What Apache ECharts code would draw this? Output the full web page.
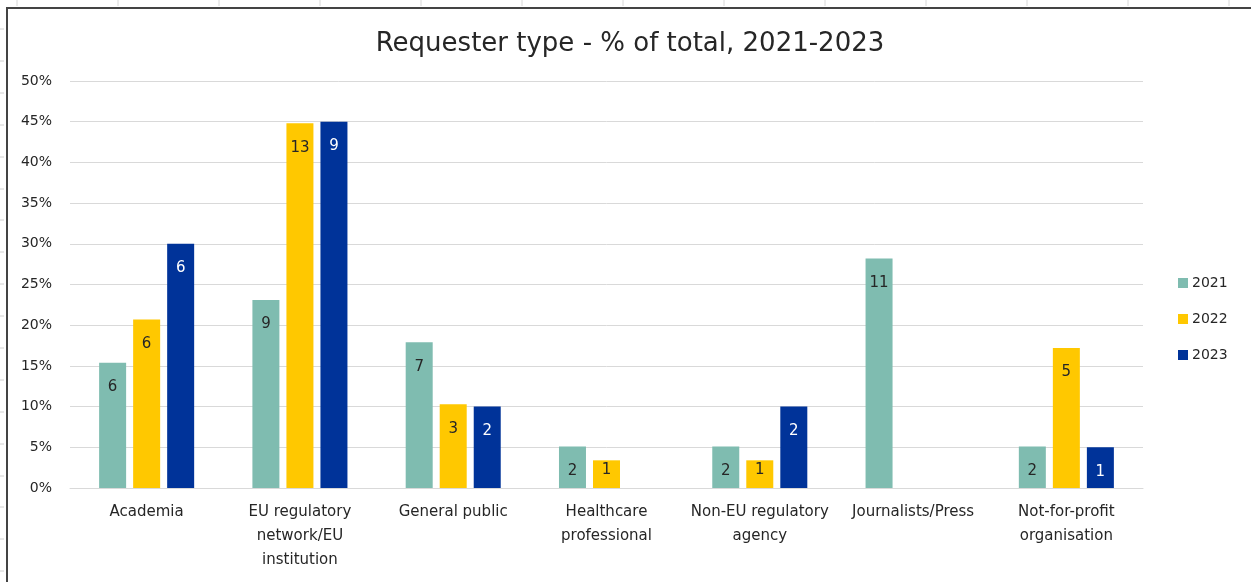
<!DOCTYPE html>
<html>
<head>
<meta charset="utf-8">
<script src="https://cdn.jsdelivr.net/npm/echarts@6/dist/echarts.min.js"></script>
<style>
html,body{margin:0;padding:0;background:#fff;}
#chart{width:1251px;height:582px;}
</style>
</head>
<body>
<div id="chart"></div>
<script>
const categories = ['Academia', 'EU regulatory\nnetwork/EU\ninstitution', 'General public', 'Healthcare\nprofessional', 'Non-EU regulatory\nagency', 'Journalists/Press', 'Not-for-profit\norganisation'];
const years = ['2021', '2022', '2023'];
// percentage of total per year
const pct2021 = [15.4, 23.1, 17.9, 5.1, 5.1, 28.2, 5.1];
const pct2022 = [20.7, 44.8, 10.3, 3.4, 3.4, null, 17.2];
const pct2023 = [30.0, 45.0, 10.0, null, 10.0, null, 5.0];
// request counts shown as labels
const cnt2021 = [6, 9, 7, 2, 2, 11, 2];
const cnt2022 = [6, 13, 3, 1, 1, null, 5];
const cnt2023 = [6, 9, 2, null, 2, null, 1];
const yTicks = [0, 5, 10, 15, 20, 25, 30, 35, 40, 45, 50];

const colors = ['#7FBCB0', '#FFC800', '#003399'];
const labelColors = ['#262626', '#262626', '#ffffff'];
const font = 'DejaVu Sans';

function mk(i, pct, cnt) {
  return {
    name: years[i],
    type: 'bar',
    barWidth: 27,
    barGap: '26%',
    data: pct.map(v => (v != null && v < 4)
      ? {value: v, label: {position: 'insideBottom', distance: 10}}
      : v),
    itemStyle: {color: colors[i]},
    label: {
      show: true,
      position: 'insideTop',
      distance: 17,
      fontFamily: font,
      fontSize: 15,
      color: labelColors[i],
      formatter: p => cnt[p.dataIndex] == null ? '' : String(cnt[p.dataIndex])
    }
  };
}

// spreadsheet cell tick marks around the chart frame
const deco = [];
for (let y = 29; y < 582; y += 31.9) {
  deco.push({type: 'line', shape: {x1: 0, y1: Math.round(y), x2: 4, y2: Math.round(y)}, style: {stroke: '#d0d0d0', lineWidth: 1}});
}
for (let x = 17; x < 1251; x += 101) {
  deco.push({type: 'line', shape: {x1: x, y1: 0, x2: x, y2: 6}, style: {stroke: '#d8d8d8', lineWidth: 1}});
}
deco.push({type: 'polyline', shape: {points: [[7, 582], [7, 8], [1251, 8]]}, style: {stroke: '#444', lineWidth: 2, fill: null}});

const chart = echarts.init(document.getElementById('chart'));
chart.setOption({
  animation: false,
  backgroundColor: '#fff',
  title: {
    text: 'Requester type - % of total, 2021-2023',
    left: 625, top: 26, textAlign: 'center',
    textStyle: {fontFamily: font, fontSize: 26, fontWeight: 'normal', color: '#262626'}
  },
  legend: {
    orient: 'vertical',
    left: 1173, top: 271,
    itemWidth: 10, itemHeight: 10, itemGap: 22,
    icon: 'rect',
    textStyle: {fontFamily: font, fontSize: 14, color: '#262626', padding: [0, 0, 0, -1]},
    data: years
  },
  grid: {left: 70, right: 108, top: 81, bottom: 94},
  xAxis: {
    type: 'category',
    data: categories,
    axisLine: {lineStyle: {color: '#d9d9d9', width: 1}},
    axisTick: {show: false},
    axisLabel: {fontFamily: font, fontSize: 15, color: '#262626', lineHeight: 24, margin: 12, interval: 0}
  },
  yAxis: {
    type: 'value',
    min: 0, max: 50, interval: 5,
    axisLine: {show: false},
    axisTick: {show: false},
    splitLine: {lineStyle: {color: '#d9d9d9', width: 1}},
    axisLabel: {fontFamily: font, fontSize: 14, color: '#262626', margin: 18,
      formatter: v => yTicks.includes(v) ? v + '%' : ''}
  },
  series: [mk(0, pct2021, cnt2021), mk(1, pct2022, cnt2022), mk(2, pct2023, cnt2023)],
  graphic: deco
});
</script>
</body>
</html>
